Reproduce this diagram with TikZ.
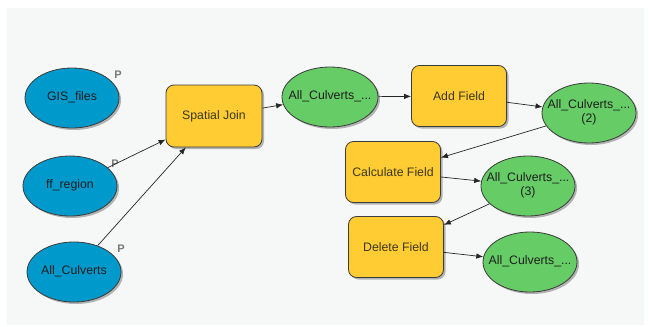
\documentclass[tikz,border=0pt]{standalone}
\usepackage{fontspec}
\setmainfont{Liberation Sans}
\usetikzlibrary{shapes.geometric,arrows.meta,shadows}

\definecolor{bgpanel}{RGB}{246,248,248}
\definecolor{inputblue}{RGB}{0,153,204}
\definecolor{toolyellow}{RGB}{255,204,51}
\definecolor{outgreen}{RGB}{102,204,102}
\definecolor{edgegray}{RGB}{60,60,60}
\definecolor{txtdark}{RGB}{30,30,30}
\definecolor{plabel}{RGB}{120,120,120}

% centred label that does not widen its node
\newcommand{\fixw}[1]{\makebox[0pt]{\begin{tabular}{@{}c@{}}#1\end{tabular}}}

\tikzset{
  soft/.style={drop shadow={shadow xshift=2pt, shadow yshift=-2pt, fill=black, opacity=0.28}},
  datavar/.style={ellipse, draw=edgegray, line width=0.8pt, inner sep=0pt,
    minimum width=94pt, minimum height=60pt, font=\fontsize{12.3}{14}\selectfont,
    text=txtdark, align=center, soft},
  inputvar/.style={datavar, fill=inputblue},
  outvar/.style={datavar, fill=outgreen},
  toolbox/.style={rectangle, rounded corners=8pt, draw=edgegray, line width=0.8pt,
    fill=toolyellow, minimum width=95pt, minimum height=61pt, inner sep=0pt,
    font=\fontsize{12.3}{13.5}\selectfont, text={rgb,255:red,60;green,55;blue,30}, soft},
  flow/.style={draw=black!85, line width=0.7pt, -{Latex[length=7pt,width=5.5pt]}},
  param/.style={font=\bfseries\fontsize{11}{11}\selectfont, text=plabel, inner sep=0pt}
}

\begin{document}
\begin{tikzpicture}[x=1pt,y=-1pt]
  \useasboundingbox (0,0) rectangle (649,327);
  \fill[white] (0,0) rectangle (649,327);
  \fill[bgpanel] (7,8) rectangle (644,325);

  % model parameters (inputs)
  \node[inputvar] (gis) at (72,98) {\fixw{GIS\_files}};
  \node[inputvar] (ff) at (70,186) {\fixw{ff\_region}};
  \node[inputvar] (cul) at (74,272) {\fixw{All\_Culverts}};
  \node[param] (pgis) at (118,75) {P};
  \node[param] (pff) at (115,164) {P};
  \node[param] (pcul) at (121,249) {P};

  % tools
  \node[toolbox, minimum width=96pt, minimum height=62pt] (sj) at (214,116) {Spatial Join};
  \node[toolbox] (add) at (459,96) {Add Field};
  \node[toolbox] (calc) at (393,172) {Calculate Field};
  \node[toolbox] (del) at (396,247) {Delete Field};

  % derived outputs
  \node[outvar, minimum width=96pt] (o1) at (330,97) {\fixw{All\_Culverts\_...}};
  \node[outvar] (o2) at (589,113) {\fixw{All\_Culverts\_...\\(2)}};
  \node[outvar] (o3) at (528,186) {\fixw{All\_Culverts\_...\\(3)}};
  \node[outvar] (o4) at (530,262) {\fixw{All\_Culverts\_...}};

  % connectors
  \draw[flow] (ff) -- (sj);
  \draw[flow] (cul) -- (sj);
  \draw[flow] (sj) -- (o1);
  \draw[flow] (o1) -- (add);
  \draw[flow] (add) -- (o2);
  \draw[flow] (o2) -- (calc);
  \draw[flow] (calc) -- (o3);
  \draw[flow] (o3) -- (del);
  \draw[flow] (del) -- (o4);
\end{tikzpicture}
\end{document}
